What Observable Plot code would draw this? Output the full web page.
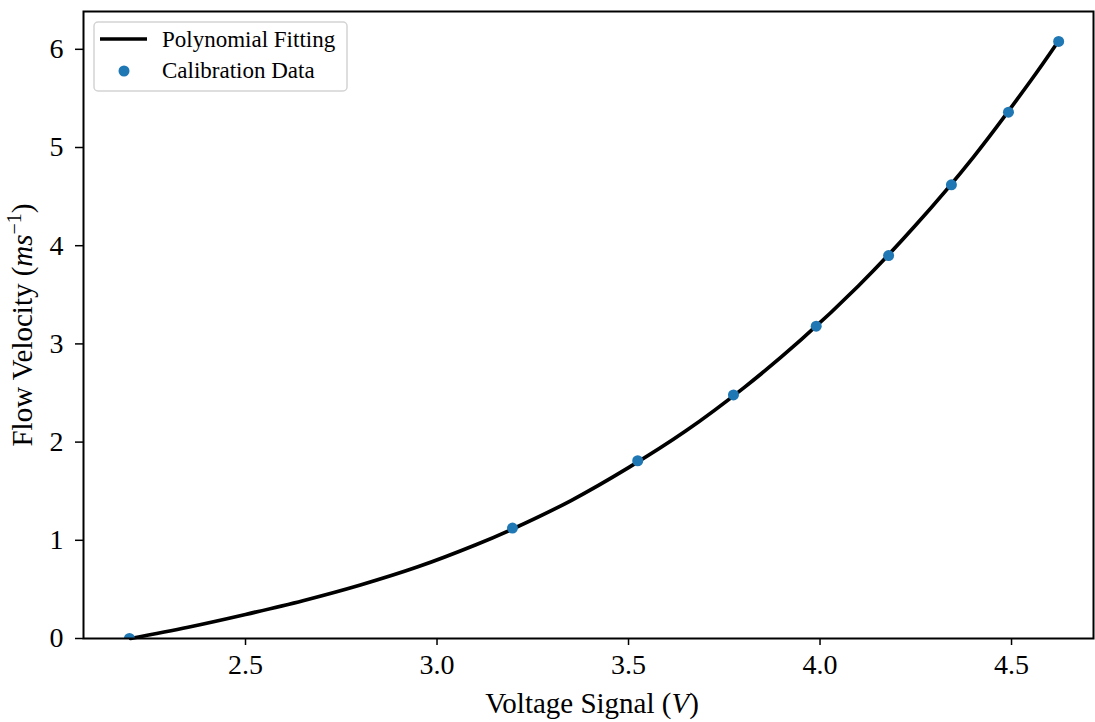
<!DOCTYPE html>
<html>
<head>
<meta charset="utf-8">
<script src="https://cdn.jsdelivr.net/npm/d3@7"></script>
<script src="https://cdn.jsdelivr.net/npm/@observablehq/plot@0.6"></script>
<style>
  html, body { margin: 0; padding: 0; background: #fff; }
  #chart svg { display: block; }
  #chart svg text { font-family: 'Liberation Serif', 'DejaVu Serif', serif; }
</style>
</head>
<body>
<div id="chart"></div>
<script>
// Calibration data
const calVoltage = [2.197, 3.197, 3.524, 3.774, 3.990, 4.179, 4.343, 4.492, 4.623];
const calVelocity = [0.0, 1.125, 1.81, 2.48, 3.18, 3.90, 4.62, 5.36, 6.08];

// Polynomial fitting curve (sampled along the drawn curve)
const fitVoltage = [2.20, 2.35, 2.50, 2.65, 2.80, 2.95, 3.10, 3.20, 3.35, 3.50, 3.65, 3.80, 3.95, 4.10, 4.25, 4.40, 4.55, 4.62];
const fitVelocity = [0.0, 0.115, 0.245, 0.385, 0.545, 0.73, 0.952, 1.12, 1.405, 1.74, 2.115, 2.55, 3.04, 3.59, 4.21, 4.90, 5.68, 6.07];

const xTicks = [2.5, 3.0, 3.5, 4.0, 4.5];
const yTicks = [0, 1, 2, 3, 4, 5, 6];

const legendLabels = ["Polynomial Fitting", "Calibration Data"];

const cal = calVoltage.map((v, i) => ({x: v, y: calVelocity[i]}));
const fit = fitVoltage.map((v, i) => ({x: v, y: fitVelocity[i]}));

const FONT = "'Liberation Serif', 'DejaVu Serif', serif";

const chart = Plot.plot({
  width: 1095,
  height: 722,
  marginLeft: 83,
  marginRight: 2,
  marginTop: 11,
  marginBottom: 84,
  style: {fontFamily: FONT, color: "black", background: "white"},
  x: {domain: [2.077, 4.714]},
  y: {domain: [0, 6.385]},
  marks: [
    Plot.axisX(xTicks, {tickFormat: d => d.toFixed(1), fontSize: 28, tickSize: 7, tickPadding: 9, strokeWidth: 1.5, label: null}),
    Plot.axisY(yTicks, {tickFormat: d => String(d), fontSize: 28, tickSize: 8, tickPadding: 12, strokeWidth: 1.5, label: null}),
    Plot.line(fit, {x: "x", y: "y", stroke: "black", strokeWidth: 3.7, curve: "catmull-rom"}),
    Plot.dot(cal, {x: "x", y: "y", r: 5.5, fill: "#1f77b4", clip: true}),
    Plot.frame({stroke: "black", strokeWidth: 2})
  ]
});

document.getElementById("chart").appendChild(chart);

const svg = d3.select(chart);

// Axis labels
const xl = svg.append("text")
  .attr("x", 592).attr("y", 713)
  .attr("text-anchor", "middle")
  .attr("font-family", FONT).attr("font-size", 29).attr("fill", "black");
xl.append("tspan").text("Voltage Signal (");
xl.append("tspan").attr("font-style", "italic").text("V");
xl.append("tspan").text(")");

const yl = svg.append("text")
  .attr("transform", "translate(32,325) rotate(-90)")
  .attr("text-anchor", "middle")
  .attr("font-family", FONT).attr("font-size", 29).attr("fill", "black");
yl.append("tspan").text("Flow Velocity (");
yl.append("tspan").attr("font-style", "italic").text("ms");
yl.append("tspan").attr("dy", -11).attr("font-size", 20).text("\u22121");
yl.append("tspan").attr("dy", 11).text(")");

// Legend
const lg = svg.append("g").attr("text-anchor", "start");
lg.append("rect").attr("x", 94).attr("y", 22).attr("width", 253).attr("height", 69)
  .attr("rx", 4).attr("fill", "white").attr("fill-opacity", 0.8)
  .attr("stroke", "#d3d3d3").attr("stroke-width", 1.5);
lg.append("line").attr("x1", 100).attr("x2", 147).attr("y1", 39).attr("y2", 39)
  .attr("stroke", "black").attr("stroke-width", 3.5);
lg.append("circle").attr("cx", 124).attr("cy", 71).attr("r", 5.5).attr("fill", "#1f77b4");
lg.append("text").attr("x", 162).attr("y", 47).attr("font-family", FONT).attr("font-size", 23)
  .attr("text-anchor", "start").attr("fill", "black").text(legendLabels[0]);
lg.append("text").attr("x", 162).attr("y", 78).attr("font-family", FONT).attr("font-size", 23)
  .attr("text-anchor", "start").attr("fill", "black").text(legendLabels[1]);
</script>
</body>
</html>
